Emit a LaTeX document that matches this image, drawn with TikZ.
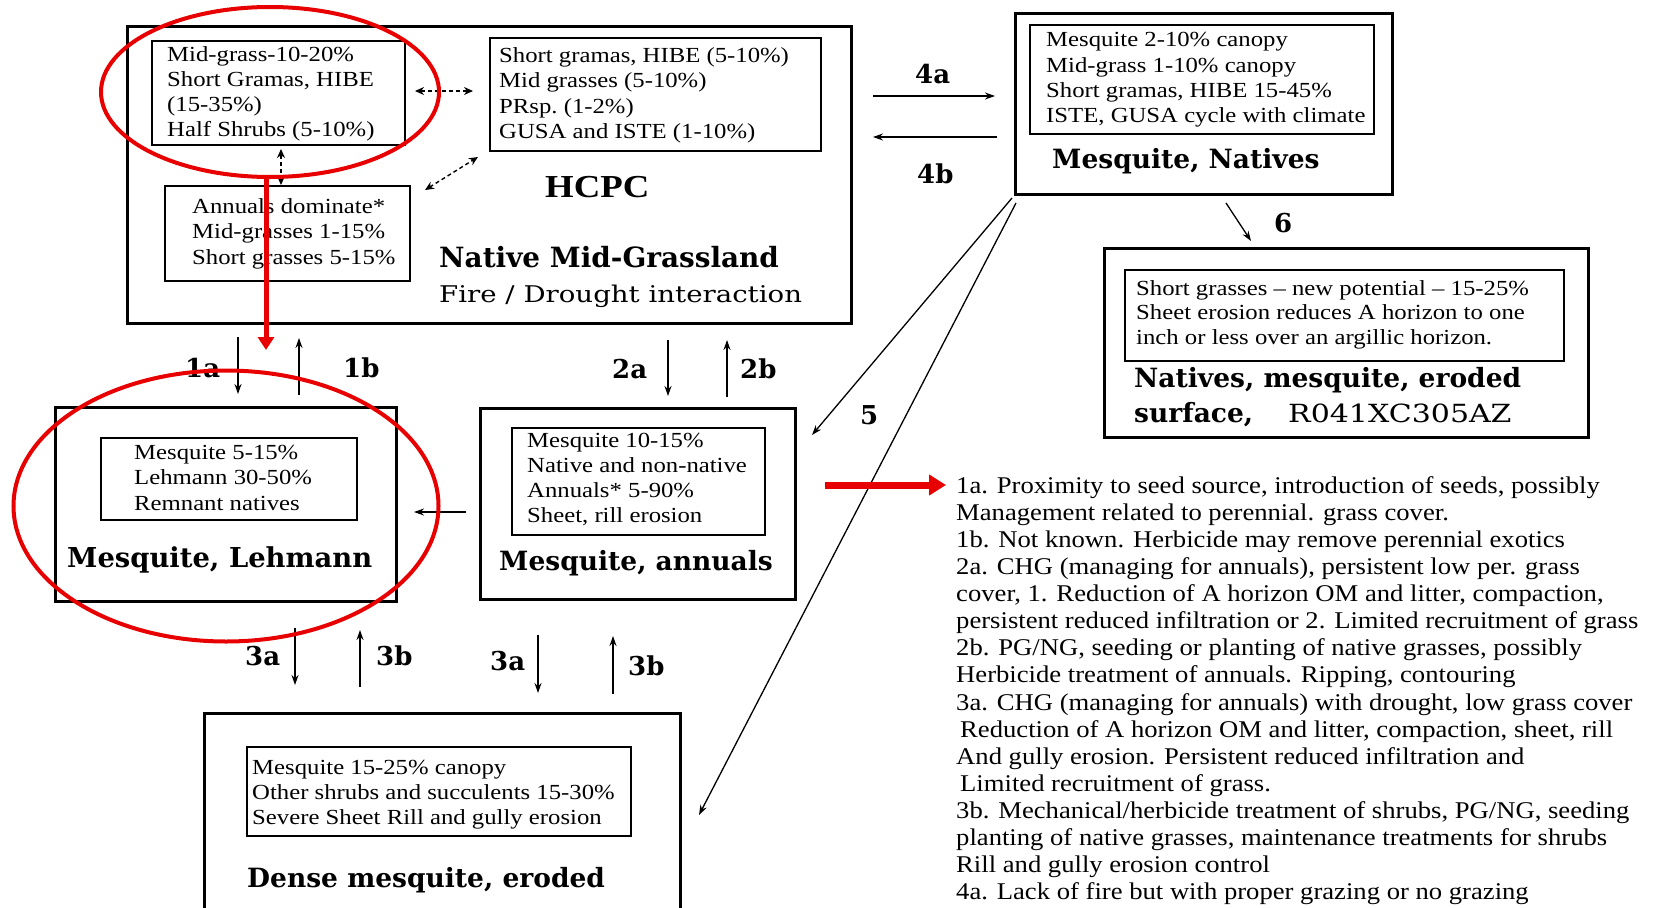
\documentclass[tikz,border=0pt]{standalone}
\usepackage{fontspec}
\setmainfont{Liberation Serif}
\newfontfamily\boxf[FakeStretch=1.15]{Liberation Serif}
\newfontfamily\notef[FakeStretch=1.11]{Liberation Serif}
\newfontfamily\titlef{DejaVu Serif}
\newfontfamily\widef[FakeStretch=1.2]{DejaVu Serif}
\usetikzlibrary{arrows.meta,fit,shapes.geometric}
\definecolor{rd}{RGB}{232,0,0}
\tikzset{
 outerbox/.style={draw, line width=3pt, inner sep=0pt},
 innerbox/.style={draw, line width=1.5pt, inner sep=0pt},
 bt/.style={anchor=base west, inner sep=0pt, font=\boxf\fontsize{21.5}{24}\selectfont},
 ttl/.style={anchor=base west, inner sep=0pt, font=\titlef\bfseries\fontsize{26.5}{30}\selectfont},
 lab/.style={anchor=base west, inner sep=0pt, font=\titlef\bfseries\fontsize{26}{30}\selectfont},
 nt/.style={anchor=base west, inner sep=0pt, font=\notef\fontsize{24}{27}\selectfont},
 arr/.style={line width=1.3pt, -{Stealth[length=10pt,width=7pt]}},
 darr/.style={line width=1.4pt, dash pattern=on 4pt off 3pt, {Stealth[length=9pt,width=8pt]}-{Stealth[length=9pt,width=8pt]}},
 redring/.style={draw=rd, line width=4pt, ellipse, inner sep=0pt},
 redarr/.style={draw=rd, line width=5pt, -{Triangle[length=13pt,width=16pt]}},
 bigred/.style={draw=rd, line width=7pt, -{Triangle[length=17pt,width=20pt]}},
}
\begin{document}
\begin{tikzpicture}[x=1pt,y=-1pt]
\useasboundingbox (0,0) rectangle (1656,907);

% ---------- HCPC ----------
\node[outerbox, fit={(127,27)(851,323)}] (hcpc) {};
\node[innerbox, fit={(152,41)(405,145)}] (b1) {};
\node[innerbox, fit={(490,38)(821,151)}] (b2) {};
\node[innerbox, fit={(165,186)(410,281)}] (b3) {};
\foreach \s [count=\i] in {{Mid-grass-10-20\%}, {Short Gramas, HIBE}, {(15-35\%)}, {Half Shrubs (5-10\%)}}
  \node[bt] (b1t\i) at (167,{62+24.7*(\i-1)}) {\s};
\foreach \s [count=\i] in {{Short gramas, HIBE (5-10\%)}, {Mid grasses (5-10\%)}, {PRsp.\ (1-2\%)}, {GUSA and ISTE (1-10\%)}}
  \node[bt] (b2t\i) at (499,{63+25*(\i-1)}) {\s};
\foreach \s [count=\i] in {{Annuals dominate*}, {Mid-grasses 1-15\%}, {Short grasses 5-15\%}}
  \node[bt] (b3t\i) at (192,{213+25.5*(\i-1)}) {\s};
\node[anchor=base west, inner sep=0pt, font=\boxf\bfseries\fontsize{32}{34}\selectfont] (hcpct) at (545,197) {HCPC};
\node[ttl, font=\titlef\bfseries\fontsize{27.9}{30}\selectfont] (hcpcn) at (439,267) {Native Mid-Grassland};
\node[anchor=base west, inner sep=0pt, font=\widef\fontsize{23}{26}\selectfont] (hcpcf) at (439,302) {Fire / Drought interaction};
\coordinate (d1a) at (415,91); \coordinate (d1b) at (473,91);
\coordinate (d2a) at (281,149); \coordinate (d2b) at (281,185);
\coordinate (d3a) at (425,190); \coordinate (d3b) at (478,157);
\draw[darr] (d1a) -- (d1b);
\draw[darr] (d2a) -- (d2b);
\draw[darr] (d3a) -- (d3b);

% ---------- Mesquite, Natives ----------
\node[outerbox, fit={(1015,14)(1392,194)}] (nat) {};
\node[innerbox, fit={(1030,25)(1374,134)}] (natin) {};
\foreach \s [count=\i] in {{Mesquite 2-10\% canopy}, {Mid-grass 1-10\% canopy}, {Short gramas, HIBE 15-45\%}, {ISTE, GUSA cycle with climate}}
  \node[bt] (natt\i) at (1046,{47+25*(\i-1)}) {\s};
\node[ttl] (natn) at (1052,168) {Mesquite, Natives};

\coordinate (a4s) at (873,96); \coordinate (a4e) at (995,96);
\coordinate (b4s) at (997,137); \coordinate (b4e) at (873,137);
\draw[arr] (a4s) -- (a4e);
\draw[arr] (b4s) -- (b4e);
\node[lab] (l4a) at (915,83) {4a};
\node[lab] (l4b) at (917,183) {4b};

% ---------- Natives, mesquite, eroded ----------
\node[outerbox, fit={(1104,248)(1588,437)}] (ero) {};
\node[innerbox, fit={(1125,270)(1564,361)}] (eroin) {};
\foreach \s [count=\i] in {{Short grasses \textendash\ new potential \textendash\ 15-25\%}, {Sheet erosion reduces A horizon to one}, {inch or less over an argillic horizon.}}
  \node[bt] (erot\i) at (1136,{295+24.5*(\i-1)}) {\s};
\node[ttl] (eron1) at (1134,387) {Natives, mesquite, eroded};
\node[ttl] (eron2) at (1134,422) {surface,};
\node[anchor=base west, inner sep=0pt, font=\widef\fontsize{25}{28}\selectfont] (eroid) at (1288,422) {R041XC305AZ};

\coordinate (a6s) at (1226,203); \coordinate (a6e) at (1251,241);
\draw[arr] (a6s) -- (a6e);
\node[lab] (l6) at (1274,232) {6};

% ---------- Mesquite, Lehmann ----------
\node[outerbox, fit={(55,407)(396,601)}] (leh) {};
\node[innerbox, fit={(101,438)(357,520)}] (lehin) {};
\foreach \s [count=\i] in {{Mesquite 5-15\%}, {Lehmann 30-50\%}, {Remnant natives}}
  \node[bt] (leht\i) at (134,{459+25.5*(\i-1)}) {\s};
\node[ttl, font=\titlef\bfseries\fontsize{27.4}{30}\selectfont] (lehn) at (67,567) {Mesquite, Lehmann};

% ---------- Mesquite, annuals ----------
\node[outerbox, fit={(480,408)(795,599)}] (ann) {};
\node[innerbox, fit={(512,428)(765,535)}] (annin) {};
\foreach \s [count=\i] in {{Mesquite 10-15\%}, {Native and non-native}, {Annuals* 5-90\%}, {Sheet, rill erosion}}
  \node[bt] (annt\i) at (527,{447+25*(\i-1)}) {\s};
\node[ttl] (annn) at (499,570) {Mesquite, annuals};

\coordinate (alS) at (466,512); \coordinate (alE) at (414,512);
\draw[arr] (alS) -- (alE);

% ---------- Dense mesquite, eroded ----------
\node[outerbox, fit={(204,713)(680,912)}] (den) {};
\node[innerbox, fit={(247,747)(631,836)}] (denin) {};
\foreach \s [count=\i] in {{Mesquite 15-25\% canopy}, {Other shrubs and succulents 15-30\%}, {Severe Sheet Rill and gully erosion}}
  \node[bt] (dent\i) at (252,{774+25*(\i-1)}) {\s};
\node[ttl] (denn) at (247,887) {Dense mesquite, eroded};

% ---------- transition arrows ----------
\coordinate (a1s) at (238,337); \coordinate (a1e) at (238,394);
\coordinate (b1s) at (299,395); \coordinate (b1e) at (299,338);
\coordinate (a2s) at (668,340); \coordinate (a2e) at (668,396);
\coordinate (b2s) at (727,397); \coordinate (b2e) at (727,340);
\coordinate (a3s) at (295,628); \coordinate (a3e) at (295,685);
\coordinate (b3s) at (360,687); \coordinate (b3e) at (360,630);
\coordinate (c3s) at (538,635); \coordinate (c3e) at (538,693);
\coordinate (d3s) at (613,694); \coordinate (d3e) at (613,636);
\draw[arr] (a1s) -- (a1e);
\draw[arr] (b1s) -- (b1e);
\draw[arr] (a2s) -- (a2e);
\draw[arr] (b2s) -- (b2e);
\draw[arr] (a3s) -- (a3e);
\draw[arr] (b3s) -- (b3e);
\draw[arr] (c3s) -- (c3e);
\draw[arr] (d3s) -- (d3e);
\node[lab] (l1a) at (185,377) {1a};
\node[lab] (l1b) at (343,377) {1b};
\node[lab] (l2a) at (612,378) {2a};
\node[lab] (l2b) at (740,378) {2b};
\node[lab] (l3a) at (245,665) {3a};
\node[lab] (l3b) at (376,665) {3b};
\node[lab] (l3c) at (490,670) {3a};
\node[lab] (l3d) at (628,675) {3b};

\coordinate (f5s) at (1012,198); \coordinate (f5e) at (812,435);
\coordinate (g5s) at (1016,203); \coordinate (g5e) at (699,815);
\draw[arr] (f5s) -- (f5e);
\draw[arr] (g5s) -- (g5e);
\node[lab] (l5) at (860,424) {5};

% ---------- notes ----------
\foreach \s [count=\i] in {
 {1a. Proximity to seed source, introduction of seeds, possibly},
 {Management related to perennial. grass cover.},
 {1b. Not known. Herbicide may remove perennial exotics},
 {2a. CHG (managing for annuals), persistent low per. grass},
 {cover, 1. Reduction of A horizon OM and litter, compaction,},
 {persistent reduced infiltration or 2. Limited recruitment of grass},
 {2b. PG/NG, seeding or planting of native grasses, possibly},
 {Herbicide treatment of annuals. Ripping, contouring},
 {3a. CHG (managing for annuals) with drought, low grass cover},
 {\hspace*{4pt}Reduction of A horizon OM and litter, compaction, sheet, rill},
 {And gully erosion. Persistent reduced infiltration and},
 {\hspace*{4pt}Limited recruitment of grass.},
 {3b. Mechanical/herbicide treatment of shrubs, PG/NG, seeding},
 {planting of native grasses, maintenance treatments for shrubs},
 {Rill and gully erosion control},
 {4a. Lack of fire but with proper grazing or no grazing}}
  \node[nt] (note\i) at (956,{493+27.13*(\i-1)}) {\s};

% ---------- red annotations ----------
\node[redring, minimum width=338pt, minimum height=170pt] (ring1) at (270,92) {};
\node[redring, minimum width=425pt, minimum height=271pt] (ring2) at (226,506) {};
\coordinate (rvs) at (266,177); \coordinate (rve) at (266,350);
\draw[redarr] (rvs) -- (rve);
\coordinate (rhs) at (825,485); \coordinate (rhe) at (946,485);
\draw[bigred] (rhs) -- (rhe);
\end{tikzpicture}
\end{document}
